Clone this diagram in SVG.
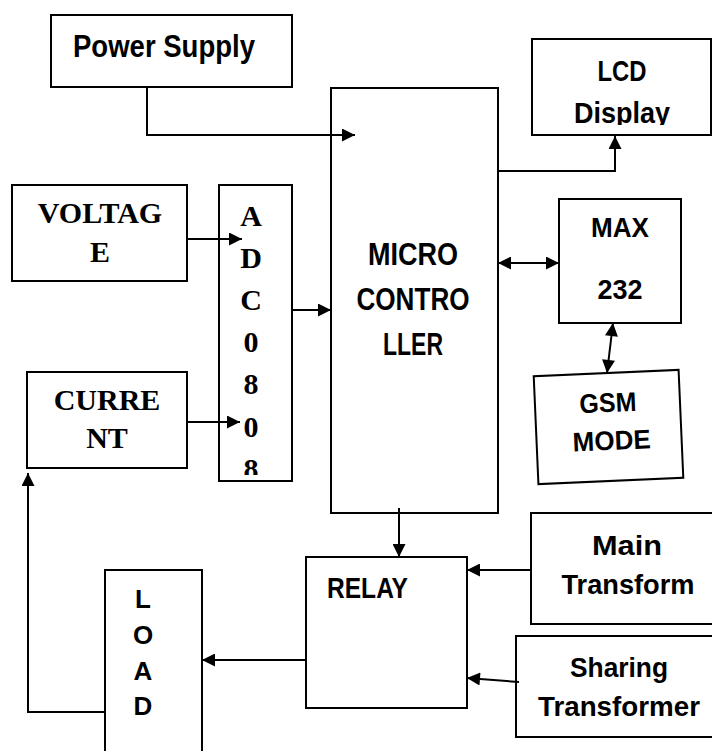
<svg xmlns="http://www.w3.org/2000/svg" width="712" height="751" viewBox="0 0 712 751">
<style>
.box{fill:#fff;stroke:#000;stroke-width:2}
.ln{fill:none;stroke:#000;stroke-width:2}
.s{font-family:"Liberation Sans",Arial,sans-serif;font-weight:bold;fill:#000}
.t{font-family:"Liberation Serif","Times New Roman",serif;font-weight:bold;fill:#000}
</style>
<defs>
<marker id="ah" viewBox="0 0 10 10" refX="10" refY="5" markerWidth="15" markerHeight="13" markerUnits="userSpaceOnUse" orient="auto-start-reverse"><path d="M0,0 L10,5 L0,10 z" fill="#000"/></marker>
<clipPath id="clipLcd"><rect x="532" y="39" width="180" height="86"/></clipPath>
<clipPath id="clipAdc"><rect x="219" y="185" width="73" height="290"/></clipPath>
</defs>

<g id="power-supply">
<rect class="box" x="51" y="15" width="241" height="72"/>
<text class="s" x="73" y="57" font-size="31" textLength="182" lengthAdjust="spacingAndGlyphs">Power Supply</text>
</g>

<g id="microcontroller">
<rect class="box" x="331" y="88" width="167" height="425"/>
<text class="s" x="413" y="265" font-size="31" text-anchor="middle" textLength="90" lengthAdjust="spacingAndGlyphs">MICRO</text>
<text class="s" x="413" y="310" font-size="31" text-anchor="middle" textLength="113" lengthAdjust="spacingAndGlyphs">CONTRO</text>
<text class="s" x="413" y="355" font-size="31" text-anchor="middle" textLength="60" lengthAdjust="spacingAndGlyphs">LLER</text>
</g>

<g id="lcd-display">
<rect class="box" x="532" y="39" width="179" height="96"/>
<g clip-path="url(#clipLcd)">
<text class="s" x="622" y="81" font-size="30" text-anchor="middle" textLength="49" lengthAdjust="spacingAndGlyphs">LCD</text>
<text class="s" x="622" y="123" font-size="30" text-anchor="middle" textLength="96" lengthAdjust="spacingAndGlyphs">Display</text>
</g>
</g>

<g id="voltage">
<rect class="box" x="12" y="185" width="175" height="96"/>
<text class="t" x="100" y="223" font-size="30" text-anchor="middle">VOLTAG</text>
<text class="t" x="100" y="262" font-size="30" text-anchor="middle">E</text>
</g>

<g id="adc0808">
<rect class="box" x="219" y="185" width="73" height="296"/>
<g clip-path="url(#clipAdc)" class="t" font-size="30" text-anchor="middle">
<text x="251" y="226">A</text>
<text x="251" y="268">D</text>
<text x="251" y="310">C</text>
<text x="251" y="352">0</text>
<text x="251" y="394">8</text>
<text x="251" y="437">0</text>
<text x="251" y="479">8</text>
</g>
</g>

<g id="current">
<rect class="box" x="27" y="372" width="160" height="96"/>
<text class="t" x="107" y="410" font-size="30" text-anchor="middle">CURRE</text>
<text class="t" x="107" y="448" font-size="30" text-anchor="middle">NT</text>
</g>

<g id="max232">
<rect class="box" x="559" y="199" width="122" height="124"/>
<text class="s" x="620" y="237" font-size="27" text-anchor="middle" textLength="58" lengthAdjust="spacingAndGlyphs">MAX</text>
<text class="s" x="620" y="299" font-size="27" text-anchor="middle" textLength="45" lengthAdjust="spacingAndGlyphs">232</text>
</g>

<g id="gsm-mode" transform="rotate(-2.5 608 427)">
<rect class="box" x="536" y="373" width="145" height="108"/>
<text class="s" x="609" y="412" font-size="27" text-anchor="middle" textLength="57" lengthAdjust="spacingAndGlyphs">GSM</text>
<text class="s" x="611" y="450" font-size="27" text-anchor="middle" textLength="78" lengthAdjust="spacingAndGlyphs">MODE</text>
</g>

<g id="relay">
<rect class="box" x="306" y="557" width="161" height="151"/>
<text class="s" x="327" y="598" font-size="29" textLength="81" lengthAdjust="spacingAndGlyphs">RELAY</text>
</g>

<g id="main-transform">
<rect class="box" x="531" y="513" width="182" height="111"/>
<text class="s" x="627" y="555" font-size="28" text-anchor="middle" textLength="70" lengthAdjust="spacingAndGlyphs">Main</text>
<text class="s" x="628" y="594" font-size="28" text-anchor="middle" textLength="133" lengthAdjust="spacingAndGlyphs">Transform</text>
</g>

<g id="sharing-transformer">
<rect class="box" x="516" y="636" width="197" height="101"/>
<text class="s" x="619" y="677" font-size="28" text-anchor="middle" textLength="98" lengthAdjust="spacingAndGlyphs">Sharing</text>
<text class="s" x="619" y="716" font-size="28" text-anchor="middle" textLength="162" lengthAdjust="spacingAndGlyphs">Transformer</text>
</g>

<g id="load">
<rect class="box" x="105" y="570" width="97" height="190"/>
<text class="s" x="143" y="608" font-size="26" text-anchor="middle">L</text>
<text class="s" x="143" y="644" font-size="26" text-anchor="middle">O</text>
<text class="s" x="143" y="680" font-size="26" text-anchor="middle">A</text>
<text class="s" x="143" y="715" font-size="26" text-anchor="middle">D</text>
</g>

<g id="connectors">
<polyline class="ln" points="147,87 147,135 355,135" marker-end="url(#ah)"/>
<polyline class="ln" points="498,171 615,171 615,136" marker-end="url(#ah)"/>
<line class="ln" x1="498" y1="263" x2="559" y2="263" marker-start="url(#ah)" marker-end="url(#ah)"/>
<line class="ln" x1="613" y1="323" x2="607" y2="373" marker-start="url(#ah)" marker-end="url(#ah)"/>
<line class="ln" x1="187" y1="239" x2="242" y2="239" marker-end="url(#ah)"/>
<line class="ln" x1="187" y1="422" x2="240" y2="422" marker-end="url(#ah)"/>
<line class="ln" x1="292" y1="310" x2="331" y2="310" marker-end="url(#ah)"/>
<line class="ln" x1="399" y1="508" x2="399" y2="557" marker-end="url(#ah)"/>
<line class="ln" x1="531" y1="570" x2="467" y2="570" marker-end="url(#ah)"/>
<line class="ln" x1="519" y1="682" x2="467" y2="678" marker-end="url(#ah)"/>
<line class="ln" x1="306" y1="660" x2="202" y2="660" marker-end="url(#ah)"/>
<polyline class="ln" points="105,712 28,712 28,473" marker-end="url(#ah)"/>
</g>
</svg>
